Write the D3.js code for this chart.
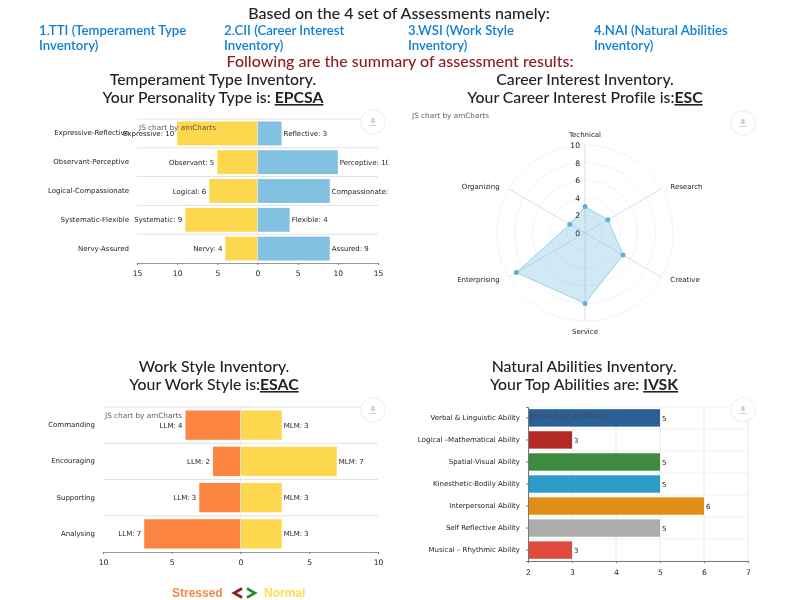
<!DOCTYPE html>
<html><head><meta charset="utf-8">
<script src="https://cdnjs.cloudflare.com/ajax/libs/d3/7.8.5/d3.min.js"></script>
<style>
html,body{margin:0;padding:0;background:#fff}
svg{display:block}
.t{font-family:Lato,sans-serif;font-variant-ligatures:none}
.c{font-family:"DejaVu Sans",sans-serif;font-size:7px;fill:#1c1c1c}
.k{font-family:"DejaVu Sans",sans-serif;font-size:7.6px;fill:#1c1c1c}
</style></head><body>
<svg id="s" width="792" height="600"></svg>
<script>
const ttiCats=["Expressive-Reflective","Observant-Perceptive","Logical-Compassionate","Systematic-Flexible","Nervy-Assured"];
const ttiLeftNames=["Expressive","Observant","Logical","Systematic","Nervy"];
const ttiLeft=[10,5,6,9,4];
const ttiRightNames=["Reflective","Perceptive","Compassionate","Flexible","Assured"];
const ttiRight=[3,10,9,4,9];
const ciiCats=["Technical","Research","Creative","Service","Enterprising","Organizing"];
const ciiVals=[3,3,5,8,9,2];
const ciiTicks=[0,2,4,6,8,10];
const wsiCats=["Commanding","Encouraging","Supporting","Analysing"];
const wsiLLM=[4,2,3,7];
const wsiMLM=[3,7,3,3];
const naiCats=["Verbal & Linguistic Ability","Logical –Mathematical Ability","Spatial-Visual Ability","Kinesthetic-Bodily Ability","Interpersonal Ability","Self Reflective Ability","Musical – Rhythmic Ability"];
const naiVals=[5,3,5,5,6,5,3];
const naiColors=["#2a6096","#b32a27","#3d8b3f","#2b9cc7","#e08e12","#adadad","#e04a3a"];
const introItems=[["1.TTI (Temperament Type","Inventory)"],["2.CII (Career Interest","Inventory)"],["3.WSI (Work Style","Inventory)"],["4.NAI (Natural Abilities","Inventory)"]];

const svg=d3.select("#s");
const defs=svg.append("defs");
defs.append("filter").attr("id","soft").attr("x","-5%").attr("y","-5%").attr("width","110%").attr("height","110%")
  .append("feGaussianBlur").attr("stdDeviation",0.35);
const root=svg.append("g").attr("filter","url(#soft)");

function txt(x,y,s,size,fill,anchor,w){
  return root.append("text").attr("class","t").attr("x",x).attr("y",y).attr("font-size",size)
    .attr("fill",fill||"#222").attr("text-anchor",anchor||"start").attr("font-weight",w||500).text(s);
}
txt(399,19,"Based on the 4 set of Assessments namely:",16,"#222","middle");
[39,224,408,594].forEach((x,i)=>{
  txt(x,35,introItems[i][0],13.2,"#0f7fd6","start",600);
  txt(x,50,introItems[i][1],13.2,"#0f7fd6","start",600);
});
txt(400,67,"Following are the summary of assessment results:",16,"#8c1a1f","middle");
function title(cx,y,l1,l2,u){
  txt(cx,y,l1,15.8,"#222","middle");
  const t=txt(cx,y+18,l2,15.8,"#222","middle");
  t.append("tspan").attr("font-weight",700).attr("text-decoration","underline").text(u);
}
title(213,85,"Temperament Type Inventory.","Your Personality Type is: ","EPCSA");
title(585,85,"Career Interest Inventory.","Your Career Interest Profile is:","ESC");
title(214,372,"Work Style Inventory.","Your Work Style is:","ESAC");
title(584,372,"Natural Abilities Inventory.","Your Top Abilities are: ","IVSK");

function exportBtn(cx,cy){
  const g=root.append("g").attr("transform",`translate(${cx},${cy})`);
  g.append("circle").attr("r",12).attr("fill","#fff").attr("stroke","#f3f3f3").attr("stroke-width",1.5);
  g.append("path").attr("d",d3.line()([[-1.5,-4],[1.5,-4],[1.5,-1],[3,-1],[0,1.5],[-3,-1],[-1.5,-1]])+"Z").attr("fill","#cfcfcf");
  g.append("line").attr("x1",-3.5).attr("x2",3.5).attr("y1",3.5).attr("y2",3.5).attr("stroke","#d0d0d0").attr("stroke-width",1);
}
function credit(x,y){
  root.append("text").attr("class","c").attr("x",x).attr("y",y).style("font-size","7.3px").style("fill","#444").attr("opacity",.85).text("JS chart by amCharts");
}
function diverging(o){
  const x=d3.scaleLinear().domain([-o.max,o.max]).range([o.x0,o.x1]);
  const y=d3.scaleBand().domain(o.cats).range([o.y0,o.y1]).paddingInner(o.pad).paddingOuter(o.pad/2);
  const g=root.append("g");
  const step=y.step();
  o.cats.forEach((c,i)=>{
    g.append("line").attr("x1",o.x0).attr("x2",o.x1).attr("y1",o.y0+i*step).attr("y2",o.y0+i*step).attr("stroke","#e2e2e2");
  });
  const clipId=o.id+"clip";
  defs.append("clipPath").attr("id",clipId).append("rect").attr("x",0).attr("y",0).attr("width",o.clipX).attr("height",600);
  o.cats.forEach((c,i)=>{
    g.append("rect").attr("x",x(-o.left[i])).attr("y",y(c)).attr("width",x(0)-x(-o.left[i])).attr("height",y.bandwidth()).attr("fill",o.lc);
    g.append("rect").attr("x",x(0)).attr("y",y(c)).attr("width",x(o.right[i])-x(0)).attr("height",y.bandwidth()).attr("fill",o.rc);
    g.append("text").attr("class","c").attr("x",o.x0-8).attr("y",y(c)+y.bandwidth()/2+2).attr("text-anchor","end").text(c);
    g.append("text").attr("class","c").attr("x",x(-o.left[i])-3).attr("y",y(c)+y.bandwidth()/2+2.5).attr("text-anchor","end").text(o.ln[i]+": "+o.left[i]);
    g.append("text").attr("class","c").attr("clip-path",`url(#${clipId})`).attr("x",x(o.right[i])+2).attr("y",y(c)+y.bandwidth()/2+2.5).text(o.rn[i]+": "+o.right[i]);
  });
  g.append("line").attr("x1",x(0)).attr("x2",x(0)).attr("y1",o.y0).attr("y2",o.y1).attr("stroke","#e6e6e6").attr("stroke-width",.8);
  const ax=g.append("g").attr("transform",`translate(0,${o.y1})`)
    .call(d3.axisBottom(x).tickValues(o.ticks).tickFormat(d=>Math.abs(d)).tickSize(2).tickPadding(o.tp));
  ax.select(".domain").attr("stroke","#999");
  ax.selectAll(".tick line").attr("stroke","#777");
  ax.selectAll("text").attr("class","k").attr("font-size",null).attr("font-family",null);
}
diverging({id:"a",cats:ttiCats,left:ttiLeft,right:ttiRight,ln:ttiLeftNames,rn:ttiRightNames,max:15,x0:137,x1:378,y0:119,y1:263,pad:.17,lc:"#fdd84f",rc:"#82c1e2",ticks:[-15,-10,-5,0,5,10,15],clipX:388,tp:6});
diverging({id:"b",cats:wsiCats,left:wsiLLM,right:wsiMLM,ln:wsiCats.map(()=>"LLM"),rn:wsiCats.map(()=>"MLM"),max:10,x0:103,x1:378,y0:407,y1:552,pad:.19,lc:"#fd8543",rc:"#fdd84f",ticks:[-10,-5,0,5,10],clipX:792,tp:6});
credit(139,130);credit(105,418);

// radar
(function(){
  const cx=585,cy=233;
  const r=d3.scaleLinear().domain([0,10]).range([0,88]);
  const g=root.append("g").attr("transform",`translate(${cx},${cy})`);
  const ang=i=>i*Math.PI/3;
  ciiTicks.slice(1).forEach(t=>g.append("circle").attr("r",r(t)).attr("fill","none").attr("stroke","#f2f2f2"));
  ciiCats.forEach((c,i)=>{
    const a=ang(i),px=Math.sin(a),py=-Math.cos(a);
    g.append("line").attr("x2",px*r(10)).attr("y2",py*r(10)).attr("stroke","#dedede");
    const lx=px*r(10)*1.12, ly=py*r(10)*1.06;
    const anchor=Math.abs(px)<.01?"middle":(px>0?"start":"end");
    g.append("text").attr("class","c").attr("x",lx).attr("y",i===0?ly-3:i===3?ly+8:ly+2.5).attr("text-anchor",anchor).text(c);
  });
  const pts=ciiVals.map((v,i)=>[Math.sin(ang(i))*r(v),-Math.cos(ang(i))*r(v)]);
  g.append("path").attr("d",d3.line()(pts)+"Z").attr("fill","#67b7dc").attr("fill-opacity",.3).attr("stroke","#8cc6e0").attr("stroke-width",.8);
  pts.forEach(p=>g.append("circle").attr("cx",p[0]).attr("cy",p[1]).attr("r",2.5).attr("fill","#62b2d6"));
  ciiTicks.forEach(t=>g.append("text").attr("class","k").attr("x",-5).attr("y",-r(t)+3).attr("text-anchor","end").text(t));
})();
credit(412,118);

// NAI
(function(){
  const x=d3.scaleLinear().domain([2,7]).range([528,748]);
  const y=d3.scaleBand().domain(naiCats).range([407,561]).paddingInner(.21).paddingOuter(.1);
  const g=root.append("g");
  [3,4,5,6,7].forEach(t=>g.append("line").attr("x1",x(t)).attr("x2",x(t)).attr("y1",407).attr("y2",561).attr("stroke","#e8e8e8"));
  d3.range(0,8).forEach(i=>{const yy=407+i*22;g.append("line").attr("x1",528).attr("x2",748).attr("y1",yy).attr("y2",yy).attr("stroke","#efefef");});
  naiCats.forEach((c,i)=>{
    g.append("rect").attr("x",x(2)).attr("y",y(c)).attr("width",x(naiVals[i])-x(2)).attr("height",y.bandwidth()).attr("fill",naiColors[i]);
    g.append("text").attr("class","c").attr("x",x(naiVals[i])+2).attr("y",y(c)+y.bandwidth()/2+3).text(naiVals[i]);
  });
  const ay=g.append("g").attr("transform","translate(528,0)").call(d3.axisLeft(y).tickSize(2).tickPadding(6));
  ay.select(".domain").attr("stroke","#777");
  ay.selectAll(".tick line").attr("stroke","#777");
  ay.selectAll("text").attr("class","c").attr("font-size",null).attr("font-family",null);
  const ax=g.append("g").attr("transform","translate(0,561)").call(d3.axisBottom(x).ticks(5).tickSize(2).tickPadding(7).tickFormat(d3.format("d")));
  ax.select(".domain").attr("stroke","#777");
  ax.selectAll(".tick line").attr("stroke","#777");
  ax.selectAll("text").attr("class","k").attr("font-size",null).attr("font-family",null);
})();
credit(530,418);
[[373,122],[743,123],[373,410],[743,410]].forEach(p=>exportBtn(p[0],p[1]));

// legend
const lg=(x,s,c)=>root.append("text").attr("x",x).attr("y",597).attr("font-family","'Liberation Sans',sans-serif").attr("font-weight",700).attr("font-size",12).attr("fill",c).text(s);
lg(172,"Stressed","#f08a48");
lg(264,"Normal","#fbe04f");
const chev=(pts,c)=>root.append("path").attr("d",d3.line()(pts)).attr("fill","none").attr("stroke",c).attr("stroke-width",2.6);
chev([[242,588.5],[234,593],[242,597.5]],"#8c1a1f");
chev([[247,588.5],[255,593],[247,597.5]],"#2e8b2e");
</script></body></html>
